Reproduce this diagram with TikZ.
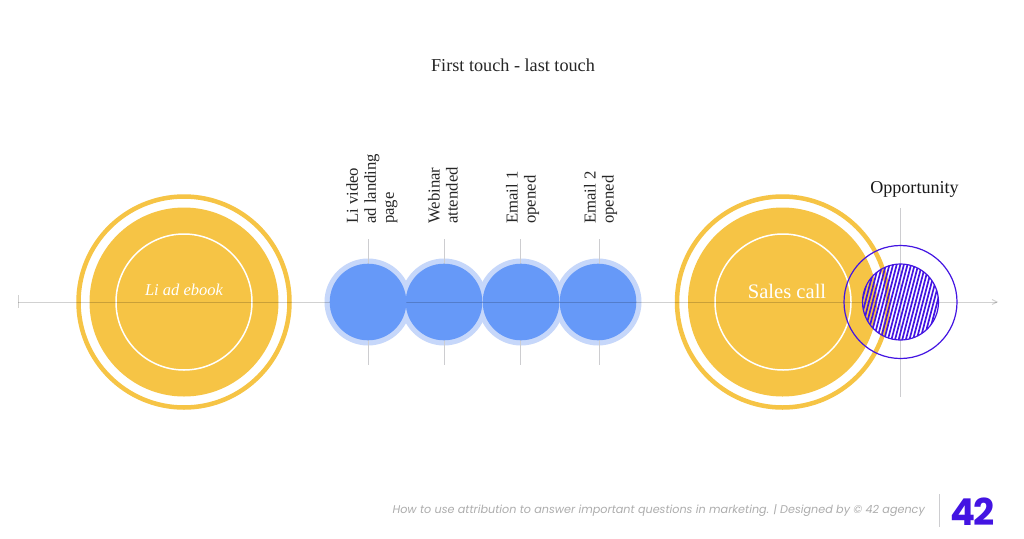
\documentclass[tikz,border=0pt]{standalone}
\usepackage{fontspec}
\setmainfont{Liberation Serif}
\newfontfamily\footfont{Poppins}
\definecolor{SunYellow}{HTML}{F6C445}
\definecolor{TouchBlue}{HTML}{6699F8}
\definecolor{HaloBlue}{HTML}{C6D7FA}
\definecolor{DealPurple}{HTML}{4314E2}
\definecolor{AxisGrey}{HTML}{CDCDD0}
\tikzset{
	RingCircle/.style = {circle, draw = SunYellow, line width = 4.5pt, minimum size = 211pt, inner sep = 0pt, outer sep = 0pt},
	SunDisc/.style = {circle, fill = SunYellow, minimum size = 189pt, inner sep = 0pt, outer sep = 0pt},
	WhiteCircle/.style = {circle, draw = white, line width = 1.5pt, minimum size = 136pt, inner sep = 0pt, outer sep = 0pt},
	HaloCircle/.style = {circle, fill = HaloBlue, minimum size = 87pt, inner sep = 0pt, outer sep = 0pt},
	TouchCircle/.style = {circle, fill = TouchBlue, minimum size = 76.6pt, inner sep = 0pt, outer sep = 0pt},
	PurpleCircle/.style = {circle, draw = DealPurple, line width = 1.2pt, inner sep = 0pt, outer sep = 0pt},
	AxisLine/.style = {draw = black, draw opacity = 0.18, line width = 1pt},
	TouchLabel/.style = {rotate = 90, anchor = west, align = left, font = \fontsize{16.7}{18}\selectfont, inner sep = 0pt, text = black!85},
	TouchStem/.style = {draw = AxisGrey, line width = 1pt}
}
\begin{document}
\begin{tikzpicture}[x = 1pt, y = -1pt]
	\useasboundingbox (0,0) rectangle (1024,538);
	\fill[white] (0,0) rectangle (1024,538);
	\node[font = \fontsize{18.2}{22}\selectfont, text = black!85] (ChartTitle) at (513,65) {First touch - last touch};

	\coordinate (AxisStart) at (18,302);
	\coordinate (AxisEnd) at (997,302);
	\coordinate (TickTop) at (18,295);
	\coordinate (TickBottom) at (18,308);

	\node[HaloCircle] (HaloTwo) at (444,302) {};
	\node[HaloCircle] (HaloThree) at (521,302) {};
	\node[HaloCircle] (HaloFour) at (598,302) {};
	\node[HaloCircle] (HaloOne) at (368,302) {};

	\foreach \touchName/\touchX in {StemOne/368, StemTwo/444, StemThree/520, StemFour/599} {
		\coordinate (\touchName Top) at (\touchX,239);
		\coordinate (\touchName Bottom) at (\touchX,365);
		\draw[TouchStem] (\touchName Top) -- (\touchName Bottom);
	}
	\coordinate (DealTop) at (900.5,208);
	\coordinate (DealBottom) at (900.5,397);
	\draw[TouchStem] (DealTop) -- (DealBottom);

	\node[RingCircle] (LiRing) at (184,302) {};
	\node[SunDisc] (LiDisc) at (184,302) {};
	\node[WhiteCircle] (LiInner) at (184,302) {};
	\node[RingCircle] (SalesRing) at (782.5,302) {};
	\node[SunDisc] (SalesDisc) at (782.5,302) {};
	\node[WhiteCircle] (SalesInner) at (783,302) {};

	\node[TouchCircle] (TouchTwo) at (444,302) {};
	\node[TouchCircle] (TouchThree) at (521,302) {};
	\node[TouchCircle] (TouchFour) at (598,302) {};

	\draw[AxisLine] (AxisStart) -- (AxisEnd);
	\draw[AxisLine] (TickTop) -- (TickBottom);
	\draw[AxisLine] (992,299.5) -- (AxisEnd) -- (992,304.5);

	\node[TouchCircle] (TouchOne) at (368,302) {};

	\node[TouchLabel] (LabelOne) at (372,224) {Li video\\ad landing\\page};
	\node[TouchLabel] (LabelTwo) at (443,224) {Webinar\\attended};
	\node[TouchLabel] (LabelThree) at (522.5,224) {Email 1\\opened};
	\node[TouchLabel] (LabelFour) at (600.5,224) {Email 2\\opened};

	\node[font = \fontsize{16.5}{20}\selectfont\itshape, text = white] (LiText) at (184,290) {Li ad ebook};
	\node[font = \fontsize{20.6}{24}\selectfont, text = white] (SalesText) at (787,291) {Sales call};
	\node[font = \fontsize{18.1}{22}\selectfont, text = black!90] (DealText) at (914.5,189) {Opportunity};

	\begin{scope}
		\clip (900.5,302) circle (38pt);
		\foreach \hatchX in {-64,-60.4,...,64} {
			\draw[DealPurple, line width = 1.7pt] (900.5+\hatchX-11,344) -- (900.5+\hatchX+11,260);
		}
	\end{scope}
	\node[PurpleCircle, minimum size = 76pt] (DealDisc) at (900.5,302) {};
	\node[PurpleCircle, minimum size = 113pt] (DealRing) at (900.5,302) {};

	\node[anchor = east, font = \footfont\fontsize{11.2}{13}\selectfont\itshape, text = black!32, inner sep = 0pt] (FootNote) at (925,510.5) {How to use attribution to answer important questions in marketing. | Designed by © 42 agency};
	\coordinate (RuleTop) at (939.5,494);
	\coordinate (RuleBottom) at (939.5,527);
	\draw[TouchStem] (RuleTop) -- (RuleBottom);
	\node[font = \footfont\fontsize{37}{37}\selectfont\bfseries, text = DealPurple, inner sep = 0pt] (LogoText) at (972.5,511.5) {4\kern-2pt 2};
\end{tikzpicture}
\end{document}
